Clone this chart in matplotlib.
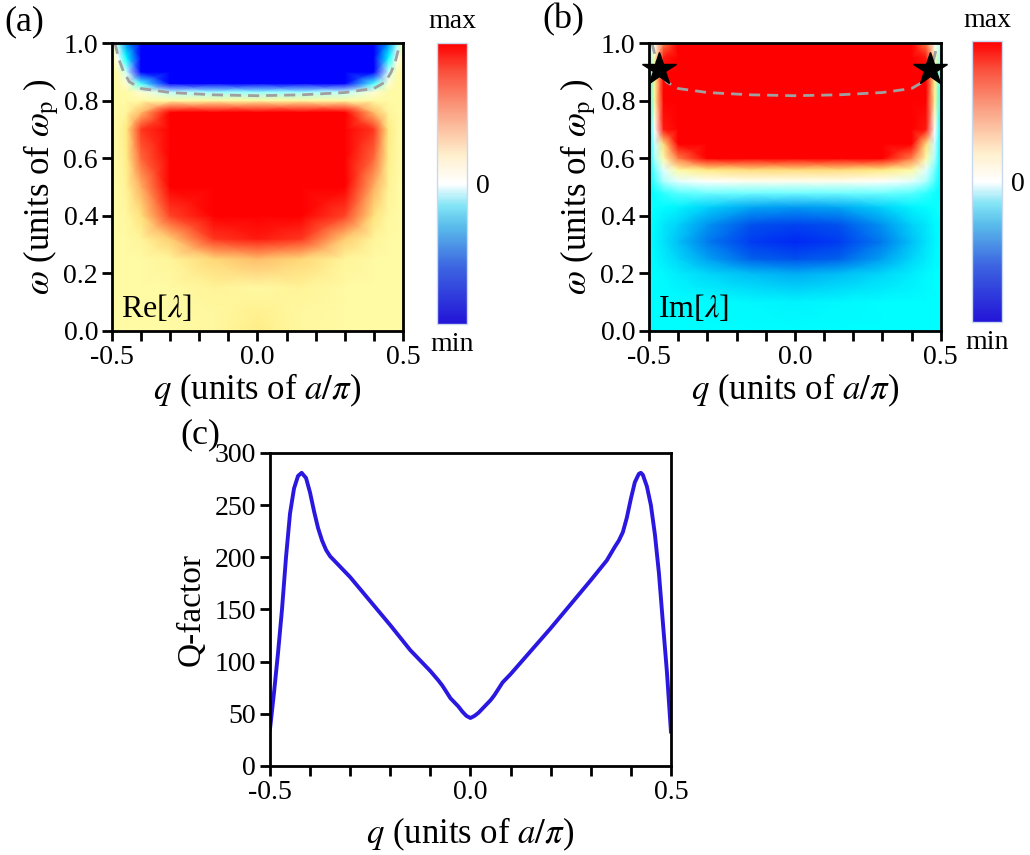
import numpy as np
import matplotlib
matplotlib.use("Agg")
import matplotlib.pyplot as plt
from matplotlib.colors import LinearSegmentedColormap, Normalize
from matplotlib.cm import ScalarMappable

plt.rcParams['font.family'] = ['Liberation Serif', 'DejaVu Serif']
plt.rcParams['mathtext.fontset'] = 'stix'
plt.rcParams['font.size'] = 16

# ---- data ----
q_grid = [-0.5, -0.48, -0.45, -0.4, -0.3, -0.15, 0.0, 0.15, 0.3, 0.4, 0.45, 0.48, 0.5]

# (a) Re[lambda], normalised: +-1 is max/min of the colour scale
re_w = [0.0, 0.06, 0.15, 0.25, 0.32, 0.4, 0.5, 0.6, 0.7, 0.76, 0.8, 0.83, 0.86, 0.9, 0.95, 1.0]
re_vals = [
    [.12, .12, .12, .12, .12, .14, .22, .14, .12, .12, .12, .12, .12],
    [.12, .12, .12, .12, .12, .14, .20, .14, .12, .12, .12, .12, .12],
    [.12, .12, .12, .12, .12, .17, .13, .17, .12, .12, .12, .12, .12],
    [.12, .12, .12, .12, .16, .32, .40, .32, .16, .12, .12, .12, .12],
    [.12, .12, .12, .16, .35, .80, .90, .80, .35, .16, .12, .12, .12],
    [.12, .12, .14, .28, .75, 2.0, 2.2, 2.0, .75, .28, .14, .12, .12],
    [.12, .12, .18, .45, 1.6, 2.5, 2.5, 2.5, 1.6, .45, .18, .12, .12],
    [.12, .13, .22, .65, 2.0, 2.5, 2.5, 2.5, 2.0, .65, .22, .13, .12],
    [.12, .13, .25, .80, 2.0, 2.5, 2.5, 2.5, 2.0, .80, .25, .13, .12],
    [.12, .12, .15, .40, 1.4, 1.6, 1.6, 1.6, 1.4, .40, .15, .12, .12],
    [.12, .12, .12, .12, .13, .14, .14, .14, .13, .12, .12, .12, .12],
    [.12, .12, .12, .05, -.12, -.18, -.20, -.18, -.12, .05, .12, .12, .12],
    [.12, .12, .05, -.30, -1.2, -1.4, -1.4, -1.4, -1.2, -.30, .05, .12, .12],
    [.12, .10, -.10, -1.1, -2.0, -2.0, -2.0, -2.0, -2.0, -1.1, -.10, .10, .12],
    [.12, .00, -.40, -1.8, -2.0, -2.0, -2.0, -2.0, -2.0, -1.8, -.40, .00, .12],
    [.10, -.20, -.60, -2.0, -2.0, -2.0, -2.0, -2.0, -2.0, -2.0, -.60, -.20, .10],
]

# (b) Im[lambda]
im_w = [0.0, 0.1, 0.2, 0.25, 0.31, 0.37, 0.43, 0.48, 0.52, 0.56, 0.6, 0.65, 0.7, 0.8, 0.9, 0.95, 1.0]
im_vals = [
    [-.40, -.40, -.40, -.40, -.40, -.40, -.40, -.40, -.40, -.40, -.40, -.40, -.40],
    [-.40, -.40, -.40, -.40, -.40, -.41, -.42, -.41, -.40, -.40, -.40, -.40, -.40],
    [-.40, -.40, -.41, -.43, -.47, -.52, -.55, -.52, -.47, -.43, -.41, -.40, -.40],
    [-.40, -.41, -.43, -.47, -.57, -.68, -.72, -.68, -.57, -.47, -.43, -.41, -.40],
    [-.40, -.42, -.45, -.51, -.64, -.80, -.86, -.80, -.64, -.51, -.45, -.42, -.40],
    [-.40, -.41, -.44, -.48, -.59, -.72, -.77, -.72, -.59, -.48, -.44, -.41, -.40],
    [-.38, -.39, -.40, -.42, -.48, -.56, -.58, -.56, -.48, -.42, -.40, -.39, -.38],
    [-.40, -.38, -.33, -.28, -.25, -.25, -.25, -.25, -.25, -.28, -.33, -.38, -.40],
    [-.40, -.30, -.15, -.05, .00, .02, .02, .02, .00, -.05, -.15, -.30, -.40],
    [-.40, -.25, -.05, .12, .25, .30, .30, .30, .25, .12, -.05, -.25, -.40],
    [-.40, -.15, .10, .60, 1.3, 1.5, 1.5, 1.5, 1.3, .60, .10, -.15, -.40],
    [-.40, -.10, .30, 1.1, 2.0, 2.0, 2.0, 2.0, 2.0, 1.1, .30, -.10, -.40],
    [-.40, .00, .90, 1.6, 2.0, 2.0, 2.0, 2.0, 2.0, 1.6, .90, .00, -.40],
    [-.35, .15, 1.1, 2.0, 2.0, 2.0, 2.0, 2.0, 2.0, 2.0, 1.1, .15, -.35],
    [-.30, .20, 1.2, 2.0, 2.0, 2.0, 2.0, 2.0, 2.0, 2.0, 1.2, .20, -.30],
    [-.20, .10, .90, 2.0, 2.0, 2.0, 2.0, 2.0, 2.0, 2.0, .90, .10, -.20],
    [-.15, .00, .60, 2.0, 2.0, 2.0, 2.0, 2.0, 2.0, 2.0, .60, .00, -.15],
]

# gray dashed curve
dash_q = [-0.49, -0.475, -0.46, -0.44, -0.4, -0.3, -0.15, 0.0, 0.15, 0.3, 0.4, 0.44, 0.46, 0.475, 0.49]
dash_w = [1.0, 0.94, 0.90, 0.865, 0.842, 0.828, 0.82, 0.817, 0.82, 0.828, 0.842, 0.865, 0.90, 0.94, 1.0]

star_q = [-0.465, 0.465]
star_w = [0.91, 0.91]

# (c) Q-factor
q_line = [-0.5, -0.49, -0.48, -0.47, -0.46, -0.45, -0.44, -0.43, -0.421, -0.41, -0.40,
          -0.39, -0.38, -0.37, -0.36, -0.35, -0.3, -0.25, -0.2, -0.15, -0.1, -0.08,
          -0.07, -0.06, -0.05, -0.04, -0.03, -0.02, -0.01, 0.0, 0.01, 0.02, 0.03,
          0.04, 0.05, 0.06, 0.07, 0.08, 0.1, 0.15, 0.2, 0.25, 0.3, 0.34, 0.36, 0.37,
          0.38, 0.39, 0.40, 0.41, 0.42, 0.425, 0.43, 0.44, 0.45, 0.46, 0.47, 0.48,
          0.49, 0.5]
q_factor = [35, 70, 108, 150, 200, 242, 266, 278, 281, 276, 262,
            244, 228, 216, 207, 201, 181, 158, 135, 111, 91, 82,
            77, 71, 65, 61, 57, 52, 48, 46, 48, 51, 55,
            59, 63, 68, 74, 80, 88, 110, 132, 155, 178, 197, 210, 216,
            224, 238, 256, 272, 280, 281, 279, 268, 250, 222, 185, 137,
            90, 33]

# ---- colour maps ----
heat = LinearSegmentedColormap.from_list('heat', [
    (0.0, (0, 0, 1)), (0.15, (0, 90/255, 235/255)), (0.3, (0, 1, 1)),
    (0.4, (150/255, 1, 1)), (0.5, (1, 1, 1)), (0.55, (1, 252/255, 170/255)),
    (0.625, (1, 235/255, 130/255)), (0.75, (1, 160/255, 90/255)),
    (0.875, (1, 70/255, 40/255)), (1.0, (1, 0, 0))])
bar_cmap = LinearSegmentedColormap.from_list('bar', [
    (0.0, (35/255, 20/255, 215/255)), (0.2, (60/255, 100/255, 225/255)),
    (0.35, (90/255, 190/255, 235/255)), (0.42, (130/255, 228/255, 245/255)),
    (0.5, (1, 1, 1)), (0.6, (1, 240/255, 205/255)), (0.75, (250/255, 165/255, 135/255)),
    (0.9, (250/255, 80/255, 60/255)), (1.0, (1, 0, 0))])

fig = plt.figure(figsize=(10.3, 8.55), dpi=100)

def style_axes(ax):
    for s in ax.spines.values():
        s.set_linewidth(2)
    ax.tick_params(direction='out', length=7, width=2, labelsize=20, pad=3)

qticks = np.round(np.arange(-0.5, 0.51, 0.1), 1)
qlabels = ['-0.5' if t == -0.5 else ('0.0' if t == 0 else ('0.5' if t == 0.5 else '')) for t in qticks]

panels = [
    ([0.1087, 0.6129, 0.2825, 0.3368], [0.4243, 0.6211, 0.0291, 0.3287], re_w, re_vals, 'Re[$\\lambda$]', '(a)', 0.004, 0.974),
    ([0.6301, 0.6129, 0.2832, 0.3368], [0.9437, 0.6234, 0.0291, 0.3287], im_w, im_vals, 'Im[$\\lambda$]', '(b)', 0.527, 0.977),
]
for rect, crect, w, vals, tag, letter, lx, ly in panels:
    ax = fig.add_axes(rect)
    Q, W = np.meshgrid(q_grid, w)
    ax.pcolormesh(Q, W, np.array(vals), shading='gouraud', cmap=heat, vmin=-1, vmax=1)
    ax.plot(dash_q, dash_w, '--', color='#a0a0a0', lw=2, dashes=(4, 2.5))
    ax.set_xlim(-0.5, 0.5)
    ax.set_ylim(0, 1)
    ax.set_xticks(qticks)
    ax.set_xticklabels(qlabels)
    ax.set_yticks([0, 0.2, 0.4, 0.6, 0.8, 1.0])
    ax.set_yticklabels(['0.0', '0.2', '0.4', '0.6', '0.8', '1.0'])
    style_axes(ax)
    ax.set_xlabel(r'$q$ (units of $a/\pi$)', fontsize=25, labelpad=1)
    ax.set_ylabel(r'$\omega$ (units of $\omega_{\mathrm{p}}$ )', fontsize=25, labelpad=2)
    ax.text(0.03, 0.025, tag, transform=ax.transAxes, fontsize=23, ha='left', va='bottom')
    fig.text(lx, ly, letter, fontsize=26, va='center', ha='left')
    if letter == '(b)':
        ax.plot(star_q, star_w, '*', color='black', markersize=25, clip_on=False, zorder=5)
    cax = fig.add_axes(crect)
    cb = fig.colorbar(ScalarMappable(norm=Normalize(-1, 1), cmap=bar_cmap), cax=cax, ticks=[])
    cb.outline.set_edgecolor('#c8d8ee')
    cb.outline.set_linewidth(1)
    cax.text(0.5, 1.03, 'max', transform=cax.transAxes, ha='center', va='bottom', fontsize=20)
    cax.text(0.5, -0.03, 'min', transform=cax.transAxes, ha='center', va='top', fontsize=20)
    cax.text(1.3, 0.49, '0', transform=cax.transAxes, ha='left', va='center', fontsize=20)

# ---- (c) ----
axc = fig.add_axes([0.2621, 0.1041, 0.3893, 0.3661])
axc.plot(q_line, q_factor, color='#2a18e0', lw=2.8)
axc.set_xlim(-0.5, 0.5)
axc.set_ylim(0, 300)
axc.set_xticks(qticks)
axc.set_xticklabels(qlabels)
axc.set_yticks([0, 50, 100, 150, 200, 250, 300])
style_axes(axc)
axc.set_xlabel(r'$q$ (units of $a/\pi$)', fontsize=25, labelpad=8)
axc.set_ylabel('Q-factor', fontsize=24, labelpad=6)
fig.text(0.175, 0.492, '(c)', fontsize=26, va='center', ha='left')

fig.savefig('out.png', dpi=100)
